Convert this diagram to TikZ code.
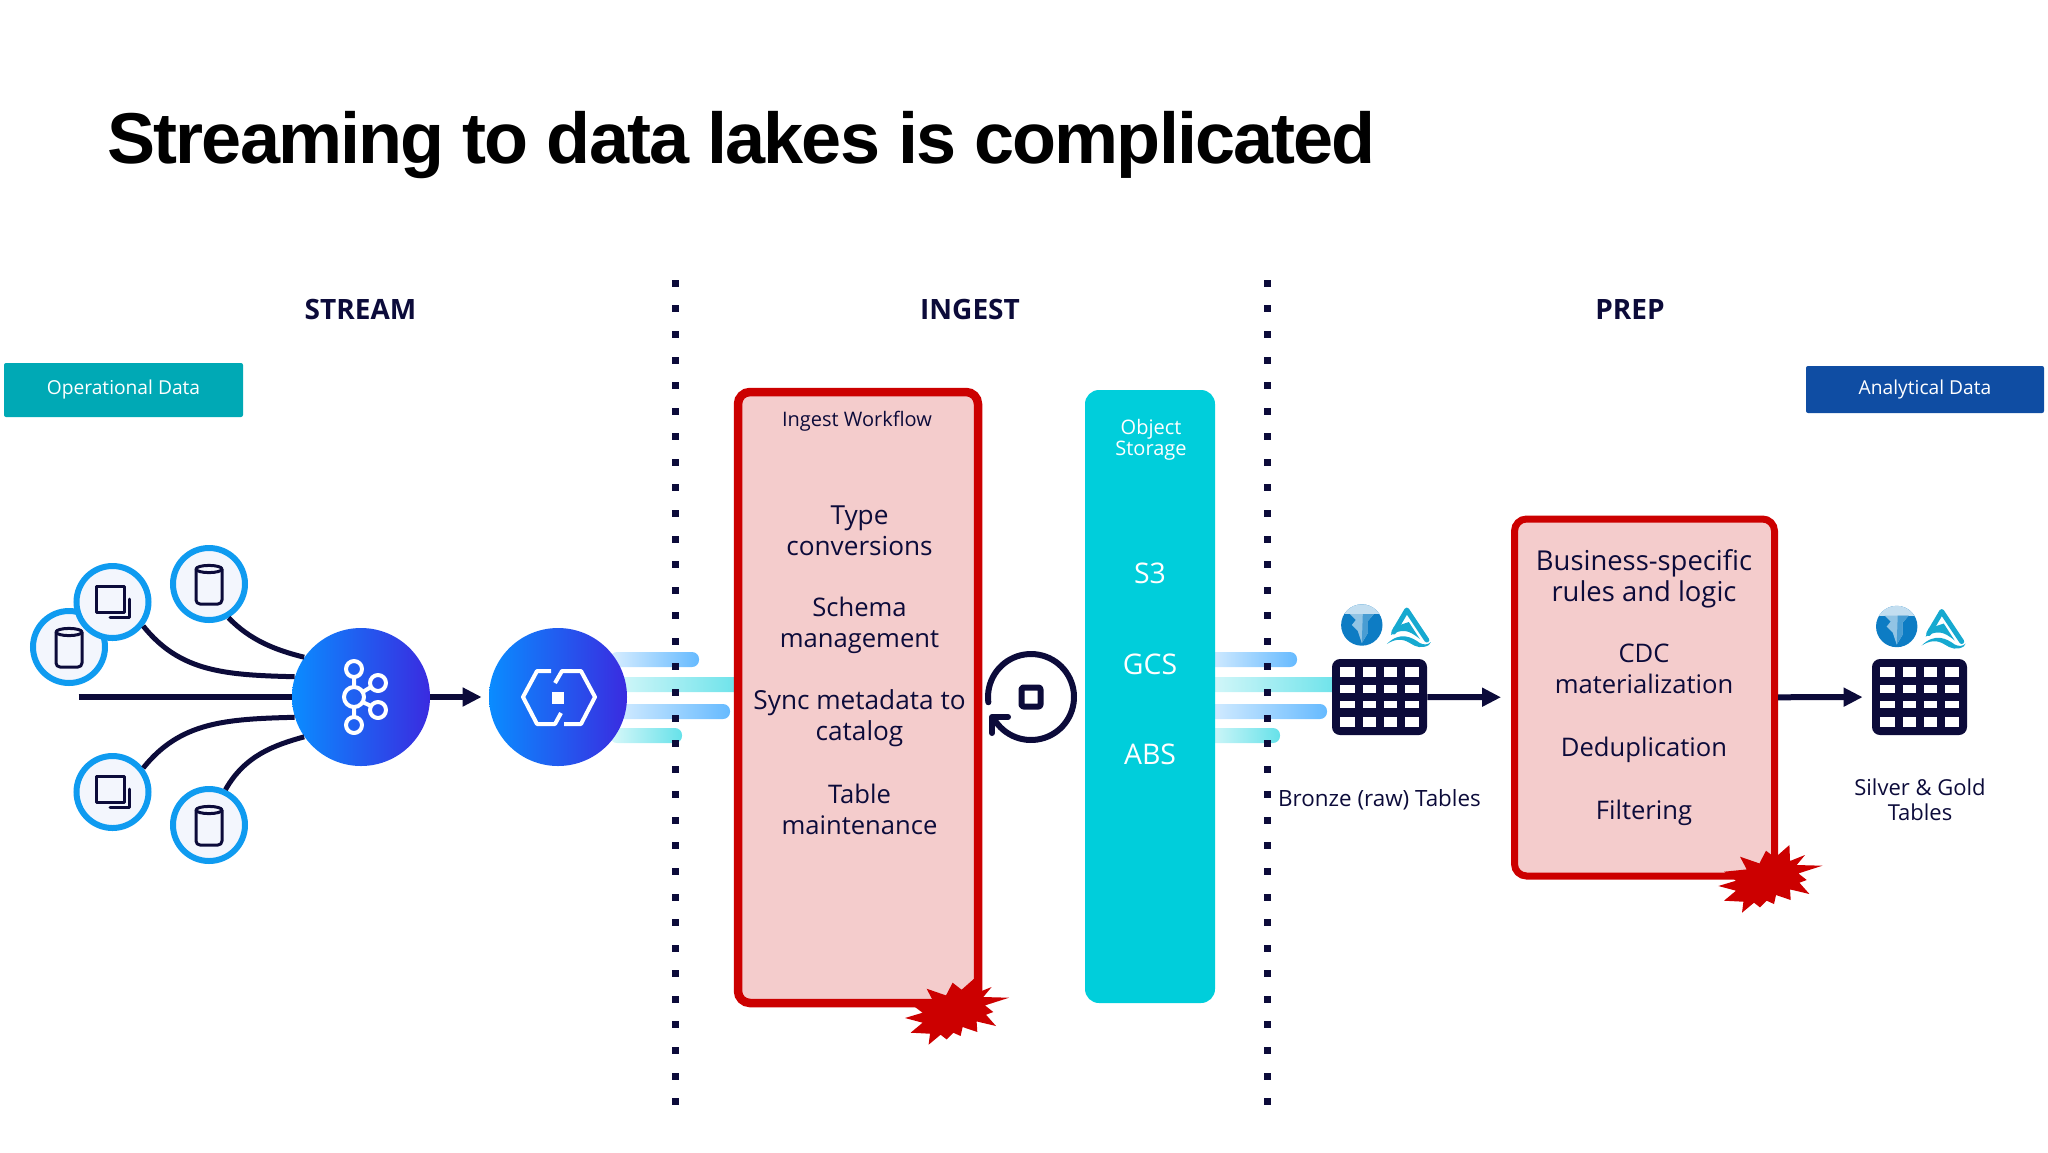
\documentclass[tikz,border=0pt]{standalone}
\usepackage{fontspec}
\setmainfont{Open Sans}
\newfontfamily\Titlefont{Liberation Sans}[LetterSpace=-2.6]
\usetikzlibrary{arrows.meta}
\definecolor{Ink}{HTML}{0C0B3A}
\definecolor{Alert}{HTML}{CC0000}
\definecolor{Alertfill}{HTML}{F4CCCC}
\definecolor{Bubble}{HTML}{0F9BF0}
\definecolor{Bubblefill}{HTML}{F3F6FD}
\definecolor{Storage}{HTML}{00CEDB}
\definecolor{Opdata}{HTML}{00A9B5}
\definecolor{Andata}{HTML}{0F4DA3}
\definecolor{Hubleft}{HTML}{0A8CFF}
\definecolor{Hubright}{HTML}{3A2BE0}
\definecolor{Berg}{HTML}{0D7CC4}
\definecolor{Lake}{HTML}{16A9D0}
\tikzset{%
    Source bubble/.style={%
        circle,
        draw=Bubble,
        fill=Bubblefill,
        line width=3pt,
        minimum size=36pt,
        inner sep=0pt
    },
    Hub/.style={%
        circle,
        left color=Hubleft,
        right color=Hubright,
        minimum size=69pt,
        inner sep=0pt
    },
    Wire/.style={%
        Ink,
        line width=2.5pt
    },
    Flow arrow/.style={%
        Ink,
        line width=3pt,
        -{Triangle[length=9.5pt,width=9pt]}
    },
    Red box/.style={%
        draw=Alert,
        fill=Alertfill,
        rounded corners=6pt,
        inner sep=0pt
    },
    Body text/.style={%
        text=Ink,
        align=center,
        font=\fontsize{12.8}{15.5}\selectfont
    },
    Small text/.style={%
        text=Ink,
        align=center,
        font=\fontsize{10}{12.5}\selectfont
    },
    Label text/.style={%
        text=Ink,
        align=center,
        font=\fontsize{11}{12.5}\selectfont
    },
    Stage head/.style={%
        text=Ink,
        font=\bfseries\fontsize{14}{15}\selectfont
    },
    Tag/.style={%
        text=white,
        rounded corners=1pt,
        font=\fontsize{9.6}{12}\selectfont
    },
    Icon line/.style={%
        Ink,
        line width=1.5pt,
        line cap=round,
        line join=round
    },
    Hub line/.style={%
        white,
        line width=2pt,
        line join=round
    }
}
% base de donnees dans une bulle
\NewDocumentCommand{\Dbicon}{m}{%
    \begin{scope}[shift={#1}]
    \draw[Icon line,rounded corners=2pt]
        (-13,-15) -- (-13,20) -- (13,20) -- (13,-15) ;
    \draw[Icon line] (0,-15) ellipse (6.5pt and 1.8pt) ;
    \end{scope}
}
% documents dans une bulle
\NewDocumentCommand{\Docsicon}{m}{%
    \begin{scope}[shift={#1}]
    \draw[Icon line] (-16,-16) rectangle (11.5,10) ;
    \draw[Icon line] (17,-3) -- (17,15.7) -- (-2.5,15.7) ;
    \end{scope}
}
% grille de la table
\NewDocumentCommand{\Tablegrid}{m}{%
    \begin{scope}[shift={#1}]
    \foreach \colx/\colw in {8.4/14.2,31/13,52/12.8,73/14}
        \foreach \rowy/\rowh in {8.3/9.4,26/7.7,42/7.3,58.3/9.4}
            \fill[white] (\colx,\rowy) rectangle ++(\colw,\rowh) ;
    \end{scope}
}
% les deux logos au-dessus d'une table
\NewDocumentCommand{\Lakelogos}{m}{%
    \begin{scope}[shift={#1}]
    \fill[Berg] (0,0) circle (20.7) ;
    \begin{scope}
    \clip (0,0) circle (20.7) ;
    \fill[Berg!25!white] (-21,-21) rectangle (21,-11) ;
    \end{scope}
    \fill[Berg!45!white] (-12,-11) -- (12,-11) -- (6,-4) -- (6,8) -- (0,18)
        -- (-4,6) -- (-10,0) -- (-6,-5) --cycle ;
    \fill[Berg!75!white] (1,-11) -- (12,-11) -- (6,-4) -- (6,8) -- (0,18) --cycle ;
    \draw[Lake,line width=2.5pt,line join=round,line cap=round]
        (32,7) -- (45,-15) -- (65,15) ;
    \fill[Lake] (32,2) -- (47,-3) -- (58,14) .. controls (46,4) and (40,4) .. (29,10) --cycle ;
    \fill[Lake] (25,19) .. controls (38,6) and (50,12) .. (58,18)
        .. controls (62,20) and (66,20) .. (69,17) -- (67,20)
        .. controls (60,24) and (54,22) .. (48,18)
        .. controls (40,13) and (33,14) .. (25,19) --cycle ;
    \end{scope}
}
% etoile rouge sur un coin
\NewDocumentCommand{\Burst}{m}{%
    \fill[Alert,shift={#1}]
        (55.7,-11) -- (31.7,-3.3) -- (40,3.3) -- (32.7,6) -- (42.7,17.3)
        -- (23.3,12.7) -- (24,23.3) -- (9.3,18.3) -- (7.3,27.3) -- (0,24)
        -- (-6.7,30.7) -- (-12.7,26) -- (-24.7,36) -- (-23.3,25) -- (-42.7,24)
        -- (-30.7,14) -- (-48.3,9.3) -- (-30.7,4) -- (-42.7,-5) -- (-20,-7.3)
        -- (-26.7,-20) -- (-7.3,-13.3) -- (-0.7,-26) -- (8.3,-19) -- (22.7,-31.7)
        -- (23.3,-15.7) -- (38.3,-21.7) -- (30,-11.7) --cycle ;
}
\NewDocumentCommand{\Streambar}{mmm}{% y, fin, couleur
    \path[left color=#3!25!white,right color=#3,rounded corners=3.5pt]
        (\barstart,#1-7.5) rectangle (#2,#1+7.5) ;
}
\begin{document}
\begin{tikzpicture}[x=.5pt,y=-.5pt]
\useasboundingbox (0,0) rectangle (2048,1152) ;

\node[anchor=base west,inner sep=0pt,font=\Titlefont\bfseries\fontsize{36}{40}\selectfont]
    (title) at (107,163) {Streaming to data lakes is complicated} ;

\node[Stage head] (stream) at (360.5,309) {STREAM} ;
\node[Stage head] (ingest) at (970,309) {INGEST} ;
\node[Stage head] (prep) at (1630,309) {PREP} ;

\node[Tag,fill=Opdata,minimum width=119.5pt,minimum height=27pt] (opdata) at (123.5,390) {Operational Data} ;
\node[Tag,fill=Andata,minimum width=119pt,minimum height=23.5pt] (andata) at (1925,389.5) {Analytical Data} ;

% barres de flux
\def\barstart{610}
\Streambar{659.5}{699}{blue!45!cyan!60!white}
\Streambar{684.5}{745}{Storage!60!white}
\Streambar{711.5}{730}{blue!45!cyan!60!white}
\Streambar{735.5}{682}{Storage!60!white}
\def\barstart{1205}
\Streambar{659.5}{1297}{blue!45!cyan!60!white}
\Streambar{684.5}{1345}{Storage!60!white}
\Streambar{711.5}{1327}{blue!45!cyan!60!white}
\Streambar{735.5}{1280}{Storage!60!white}

% pointilles
\foreach \k in {0,...,32} {
    \fill[Ink] (671.5,283.3+25.575*\k-3.5) rectangle ++(7,7) ;
    \fill[Ink] (1263.5,283.3+25.575*\k-3.5) rectangle ++(7,7) ;
}

% sources
\coordinate (tail) at (78.5,697) ;
\node[Source bubble] (dbleft) at (69,647) {} ;
\node[Source bubble] (docstop) at (112.5,602) {} ;
\node[Source bubble] (dbtop) at (209,584) {} ;
\node[Source bubble] (docsbot) at (112.5,792) {} ;
\node[Source bubble] (dbbot) at (209,825) {} ;
\Dbicon{(dbleft)}
\Docsicon{(docstop)}
\Dbicon{(dbtop)}
\Docsicon{(docsbot)}
\Dbicon{(dbbot)}

\node[Hub] (kafka) at (361,697) {} ;
\node[Hub] (connect) at (558,697) {} ;

\draw[Wire,line width=3pt] (tail) -- (kafka) ;
\draw[Wire] (docstop.-38) .. controls (180,672) and (225,675) .. (kafka.163) ;
\draw[Wire] (dbtop.-60) .. controls (250,640) and (275,650) .. (kafka.145) ;
\draw[Wire] (docsbot.38) .. controls (180,722) and (225,719) .. (kafka.197) ;
\draw[Wire] (dbbot.65) .. controls (245,755) and (275,745) .. (kafka.215) ;
\draw[Flow arrow,shorten >=3.5pt] (kafka) -- (connect) ;

% icone kafka
\draw[Hub line] (354,697) circle (10) ;
\foreach \cx/\cy in {354/669,354/725,378/683,378/710}
    \draw[Hub line] (\cx,\cy) circle (8) ;
\draw[Hub line] (354,677) -- (354,687) (354,707) -- (354,717)
    (362.6,692) -- (371,687) (362.6,702) -- (371,706) ;

% icone hexagone
\draw[Hub line] (551,671) -- (537,671) -- (523,697) -- (537,724) -- (555,724) -- (561,713) ;
\draw[Hub line] (555,683) -- (562,671) -- (581,671) -- (595,697) -- (581,724) -- (564,724) ;
\fill[white] (552,691.5) rectangle ++(12,12) ;

\node[Red box,line width=4.25pt,minimum width=120pt,minimum height=305.5pt] (workflow) at (858,697.5) {} ;
\node[Small text] (workflowlabel) at (857,421) {Ingest Workflow} ;
\node[Body text,font=\fontsize{13.1}{15.5}\selectfont] (typeconv) at (859.5,530.5) {Type\\conversions} ;
\node[Body text] (schema) at (859.5,625.5) {Schema\\management} ;
\node[Body text,font=\fontsize{13.1}{15.5}\selectfont] (syncmeta) at (859.5,718.5) {Sync metadata to\\catalog} ;
\node[Body text] (tablemaint) at (859.5,809.5) {Table\\maintenance} ;
\Burst{(953.3,1008.7)}

% icone de cycle
\draw[Icon line,line width=3pt] plot[domain=173:510,samples=70] ({1031+43*cos(\x)},{697+43*sin(\x)}) ;
\draw[Icon line,line width=3pt] (1008,717) -- (992,717) -- (992,733) ;
\draw[Icon line,line width=3pt,rounded corners=1pt] (1021.5,687.5) rectangle ++(19,19) ;

\node[fill=Storage,rounded corners=7pt,minimum width=65pt,minimum height=306.5pt] (object) at (1150,696.5) {} ;
\node[Small text,text=white,font=\fontsize{10}{10.3}\selectfont] (objectlabel) at (1151,440) {Object\\Storage} ;
\node[Body text,text=white,font=\fontsize{14.2}{16}\selectfont] (sthree) at (1150,573.5) {S3} ;
\node[Body text,text=white,font=\fontsize{14.2}{16}\selectfont] (gcs) at (1150,664) {GCS} ;
\node[Body text,text=white,font=\fontsize{14.2}{16}\selectfont] (abs) at (1150,754.5) {ABS} ;

\node[fill=Ink,rounded corners=4pt,minimum width=47.5pt,minimum height=38pt,inner sep=0pt] (bronze) at (1379.5,697) {} ;
\Tablegrid{(1332,659)}
\Lakelogos{(1361.8,625)}
\node[Label text,font=\fontsize{11.2}{12.5}\selectfont] (bronzelabel) at (1379.5,800) {Bronze (raw) Tables} ;

\node[Red box,line width=3.5pt,minimum width=130pt,minimum height=178.5pt] (cleanup) at (1644.5,697.5) {} ;
\node[Body text,font=\fontsize{13.7}{15.5}\selectfont] (business) at (1644,578.5) {Business-specific\\rules and logic} ;
\node[Body text] (cdc) at (1644,669) {CDC\\materialization} ;
\node[Body text] (dedup) at (1644,749.5) {Deduplication} ;
\node[Body text] (filtering) at (1644,812.5) {Filtering} ;
\Burst{(1766.7,876.7)}

\node[fill=Ink,rounded corners=4pt,minimum width=47.5pt,minimum height=38pt,inner sep=0pt] (silver) at (1919.5,697) {} ;
\Tablegrid{(1872,659)}
\Lakelogos{(1896.7,626.5)}
\node[Label text] (silverlabel) at (1920,799.5) {Silver \& Gold\\Tables} ;

\draw[Flow arrow,shorten >=5pt] (bronze) -- (cleanup) ;
\draw[Flow arrow,shorten >=4.5pt] (cleanup) -- (silver) ;

\end{tikzpicture}
\end{document}
